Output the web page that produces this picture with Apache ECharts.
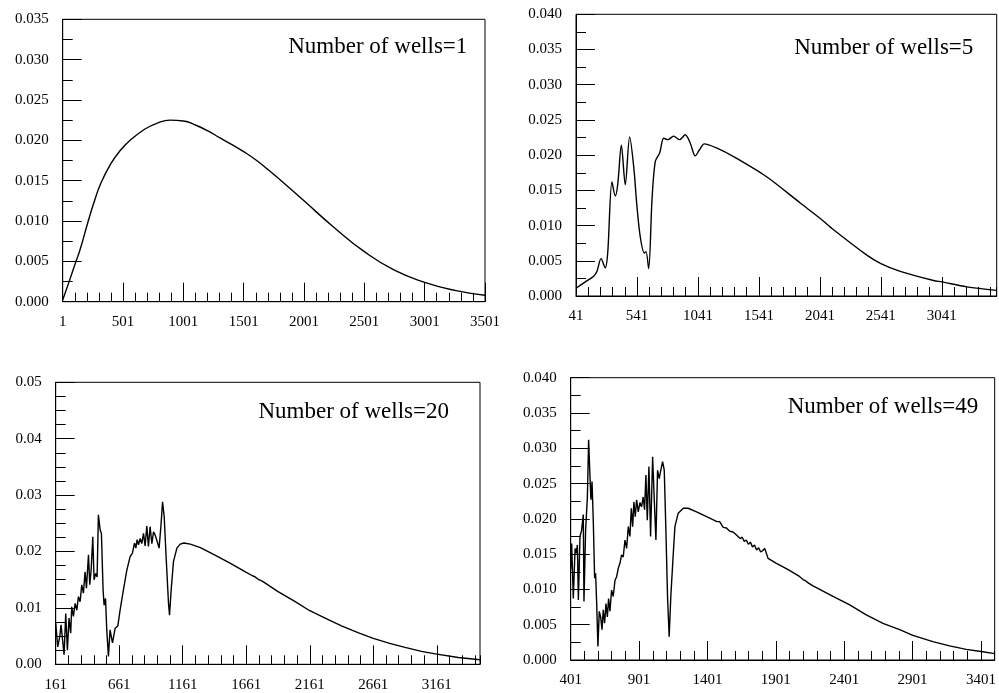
<!DOCTYPE html>
<html><head><meta charset="utf-8">
<script src="https://cdn.jsdelivr.net/npm/echarts@6/dist/echarts.min.js"></script>
<style>html,body{margin:0;padding:0;background:#fff}#c{width:999px;height:693px}</style>
</head><body><div id="c"></div>
<script>
// ---- data ----
const wells1X = [1, 50, 111, 144, 211, 260, 318, 400, 476, 560, 683, 780, 891, 1001, 1100, 1200, 1305, 1400, 1501, 1600, 1700, 1850, 2001, 2250, 2501, 2750, 3001, 3250, 3501];
const wells1Y = [0.0002, 0.0023, 0.0050, 0.0064, 0.0099, 0.0123, 0.0147, 0.0171, 0.0187, 0.0200, 0.0214, 0.0221, 0.0225, 0.0224, 0.0219, 0.0212, 0.0203, 0.0195, 0.0186, 0.0176, 0.0164, 0.0145, 0.0125, 0.0092, 0.0062, 0.0039, 0.0024, 0.0014, 0.0008];

const wells5X = [41, 117, 186, 213, 246, 281, 301, 336, 363, 383, 413, 445, 481, 514, 541, 568, 601, 615, 637, 664, 691, 727, 760, 795, 841, 891, 937, 978, 1019, 1055, 1093, 1197, 1333, 1607, 1880, 2044, 2153, 2426, 2541, 2700, 2973, 3041, 3246, 3491];
const wells5Y = [0.0011, 0.0020, 0.0028, 0.0035, 0.0053, 0.0040, 0.0061, 0.0162, 0.0142, 0.0158, 0.0214, 0.0158, 0.0226, 0.0184, 0.0127, 0.0084, 0.0061, 0.0063, 0.0039, 0.0136, 0.0191, 0.0203, 0.0224, 0.0222, 0.0227, 0.0222, 0.0229, 0.0217, 0.0199, 0.0208, 0.0216, 0.0210, 0.0198, 0.0169, 0.0132, 0.0110, 0.0094, 0.0058, 0.0046, 0.0035, 0.0022, 0.0020, 0.0013, 0.0008];

const wells20X = [161, 177, 193, 203, 214, 227, 240, 253, 266, 279, 287, 300, 314, 327, 340, 353, 366, 379, 392, 403, 419, 429, 440, 453, 463, 476, 487, 497, 511, 521, 534, 542, 553, 563, 576, 589, 608, 629, 650, 668, 694, 721, 747, 765, 781, 792, 802, 813, 826, 839, 852, 865, 878, 891, 904, 918, 931, 944, 957, 975, 991, 1002, 1015, 1030, 1049, 1057, 1070, 1088, 1115, 1141, 1170, 1220, 1300, 1411, 1530, 1661, 1710, 1730, 1745, 1760, 1790, 1911, 2040, 2161, 2290, 2411, 2540, 2661, 2790, 2911, 3040, 3161, 3330, 3501];
const wells20Y = [0.0073, 0.0031, 0.0049, 0.0070, 0.0067, 0.0017, 0.0090, 0.0025, 0.0082, 0.0055, 0.0102, 0.0085, 0.0108, 0.0096, 0.0120, 0.0111, 0.0141, 0.0126, 0.0164, 0.0135, 0.0194, 0.0141, 0.0167, 0.0226, 0.0150, 0.0161, 0.0155, 0.0265, 0.0238, 0.0232, 0.0132, 0.0105, 0.0117, 0.0061, 0.0014, 0.0061, 0.0038, 0.0064, 0.0068, 0.0096, 0.0132, 0.0167, 0.0191, 0.0197, 0.0215, 0.0206, 0.0221, 0.0212, 0.0223, 0.0214, 0.0232, 0.0210, 0.0245, 0.0209, 0.0244, 0.0214, 0.0235, 0.0229, 0.0220, 0.0206, 0.0250, 0.0288, 0.0262, 0.0191, 0.0108, 0.0087, 0.0132, 0.0182, 0.0206, 0.0213, 0.0215, 0.0213, 0.0207, 0.0194, 0.0180, 0.0163, 0.0157, 0.0155, 0.0154, 0.0150, 0.0147, 0.0129, 0.0112, 0.0095, 0.0081, 0.0068, 0.0056, 0.0046, 0.0037, 0.0030, 0.0023, 0.0018, 0.0012, 0.0008];

const wells49X = [401, 408, 420, 433, 440, 450, 457, 469, 481, 493, 498, 510, 523, 532, 542, 549, 557, 566, 576, 583, 591, 600, 610, 620, 630, 639, 649, 659, 669, 678, 688, 700, 712, 725, 737, 749, 761, 773, 785, 798, 810, 822, 834, 844, 854, 863, 873, 883, 895, 907, 919, 931, 941, 951, 961, 973, 985, 1000, 1012, 1024, 1036, 1048, 1060, 1073, 1085, 1097, 1109, 1121, 1133, 1151, 1163, 1187, 1224, 1260, 1321, 1418, 1470, 1490, 1516, 1540, 1560, 1590, 1613, 1640, 1655, 1670, 1685, 1700, 1715, 1730, 1745, 1760, 1775, 1790, 1805, 1820, 1844, 1905, 1991, 2076, 2100, 2120, 2140, 2173, 2319, 2441, 2562, 2684, 2806, 2903, 3049, 3171, 3293, 3402, 3501];
const wells49Y = [0.0128, 0.0165, 0.0087, 0.0158, 0.0151, 0.0163, 0.0085, 0.0175, 0.0184, 0.0206, 0.0083, 0.0184, 0.0231, 0.0312, 0.0260, 0.0227, 0.0253, 0.0198, 0.0116, 0.0123, 0.0080, 0.0019, 0.0069, 0.0061, 0.0043, 0.0071, 0.0052, 0.0080, 0.0061, 0.0087, 0.0069, 0.0099, 0.0090, 0.0113, 0.0118, 0.0130, 0.0137, 0.0149, 0.0146, 0.0170, 0.0158, 0.0189, 0.0175, 0.0215, 0.0189, 0.0224, 0.0203, 0.0227, 0.0210, 0.0223, 0.0217, 0.0231, 0.0213, 0.0262, 0.0198, 0.0274, 0.0175, 0.0288, 0.0227, 0.0170, 0.0269, 0.0257, 0.0269, 0.0281, 0.0269, 0.0184, 0.0090, 0.0033, 0.0090, 0.0151, 0.0189, 0.0208, 0.0215, 0.0215, 0.0210, 0.0201, 0.0196, 0.0196, 0.0188, 0.0187, 0.0183, 0.0181, 0.0177, 0.0172, 0.0174, 0.0168, 0.0170, 0.0164, 0.0167, 0.0160, 0.0163, 0.0156, 0.0159, 0.0153, 0.0155, 0.0158, 0.0144, 0.0137, 0.0128, 0.0118, 0.0114, 0.0112, 0.0109, 0.0105, 0.0090, 0.0078, 0.0064, 0.0052, 0.0043, 0.0035, 0.0026, 0.0020, 0.0015, 0.0012, 0.0009];

const panelTitles = ['Number of wells=1', 'Number of wells=5', 'Number of wells=20', 'Number of wells=49'];
const xStarts = [1, 41, 161, 401];
const xEnds = [3501, 3491, 3501, 3501];
const yMaxes = [0.035, 0.040, 0.05, 0.040];
const ySteps = [0.005, 0.005, 0.01, 0.005];
const yMinorSplits = [2, 2, 4, 2];
const yDecimals = [3, 3, 2, 3];

// ---- layout ----
const boxes = [
  [62.7, 19.3, 422.3, 282.4],
  [576, 14.3, 420.7, 281.7],
  [55.7, 382.3, 424.3, 282],
  [570.7, 377.7, 424.3, 282.3]
];
const titlePos = [[467.3, 46.7], [973.3, 48.3], [449, 412.3], [978.3, 407.2]];
const smoothing = [0.5, 0.3, false, false];
const seriesX = [wells1X, wells5X, wells20X, wells49X];
const seriesY = [wells1Y, wells5Y, wells20Y, wells49Y];

const FONT = '"Liberation Serif", "Times New Roman", serif';
const grids = [], xAxes = [], yAxes = [], series = [], graphics = [];
for (let i = 0; i < 4; i++) {
  const b = boxes[i];
  const x0 = xStarts[i], span = xEnds[i] - xStarts[i];
  grids.push({left: b[0], top: b[1], width: b[2], height: b[3], show: true,
    borderColor: '#000', borderWidth: 1, backgroundColor: 'transparent', containLabel: false});
  xAxes.push({type: 'value', gridIndex: i, position: 'bottom', min: 0, max: span, interval: 500,
    axisLine: {show: true, onZero: false, lineStyle: {color: '#000', width: 1}},
    axisTick: {show: true, inside: true, length: 19, lineStyle: {color: '#000', width: 1}},
    axisLabel: {show: true, margin: 13, color: '#000', fontFamily: FONT, fontSize: 15,
      showMinLabel: true, showMaxLabel: span % 500 === 0,
      formatter: v => String(Math.round(v + x0))},
    splitLine: {show: false}});
  xAxes.push({type: 'value', gridIndex: i, position: 'bottom', offset: 0, min: 0, max: span, interval: 100,
    axisLine: {show: false, onZero: false},
    axisTick: {show: true, inside: true, length: 9, lineStyle: {color: '#000', width: 1}},
    axisLabel: {show: false}, splitLine: {show: false}});
  yAxes.push({type: 'value', gridIndex: i, position: 'left', min: 0, max: yMaxes[i], interval: ySteps[i],
    axisLine: {show: true, onZero: false, lineStyle: {color: '#000', width: 1}},
    axisTick: {show: true, inside: true, length: 19, lineStyle: {color: '#000', width: 1}},
    minorTick: {show: true, splitNumber: yMinorSplits[i], length: 10, lineStyle: {color: '#000', width: 1}},
    axisLabel: {show: true, margin: 14, color: '#000', fontFamily: FONT, fontSize: 15,
      formatter: v => v.toFixed(yDecimals[i])},
    splitLine: {show: false}, minorSplitLine: {show: false}});
  series.push({type: 'line', xAxisIndex: 2 * i, yAxisIndex: i,
    data: seriesX[i].map((x, k) => [x - x0, seriesY[i][k]]),
    showSymbol: false, smooth: smoothing[i], clip: true,
    lineStyle: {color: '#000', width: 1.4}});
  graphics.push({type: 'text', x: titlePos[i][0], y: titlePos[i][1],
    style: {text: panelTitles[i], font: '23px ' + FONT, fill: '#000',
      align: 'right', verticalAlign: 'middle', textAlign: 'right', textVerticalAlign: 'middle'}});
}

const chart = echarts.init(document.getElementById('c'), null, {renderer: 'canvas'});
chart.setOption({
  animation: false,
  backgroundColor: '#fff',
  grid: grids, xAxis: xAxes, yAxis: yAxes, series: series, graphic: graphics
});
</script></body></html>
